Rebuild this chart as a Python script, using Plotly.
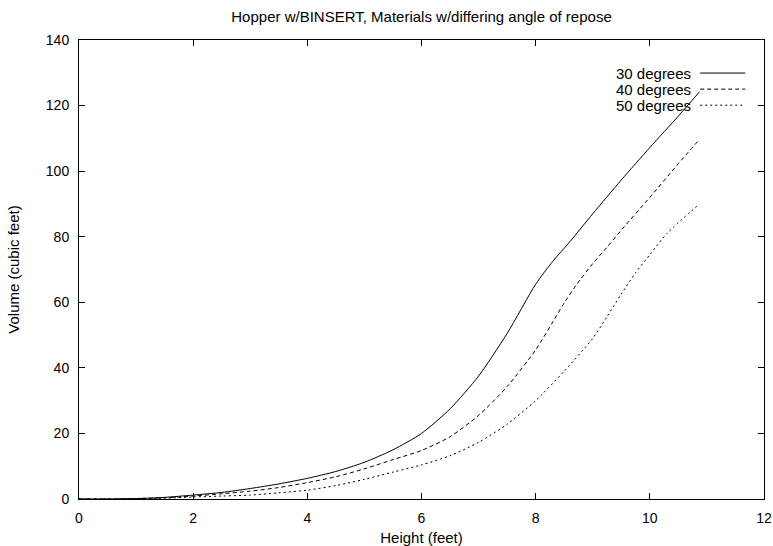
import plotly.graph_objects as go

# ---- data ----
h30 = [0, 0.5, 1, 1.5, 2, 2.5, 3, 3.5, 4, 4.5, 5, 5.5, 6, 6.5, 7, 7.5, 8, 8.3, 8.6, 9, 9.5, 10, 10.5, 10.87]
v30 = [0, 0.02, 0.15, 0.5, 1.2, 2.0, 3.2, 4.6, 6.3, 8.4, 11.2, 15.0, 20.0, 27.5, 37.5, 50.5, 65.5, 72.5, 78.5, 87.0, 97.3, 107.2, 116.8, 124.2]

h40 = [0, 0.5, 1, 1.5, 2, 2.5, 3, 3.5, 4, 4.5, 5, 5.5, 6, 6.5, 7, 7.5, 8, 8.3, 8.5, 8.7, 9, 9.25, 9.5, 10, 10.5, 10.87]
v40 = [0, 0.01, 0.1, 0.4, 0.9, 1.6, 2.4, 3.5, 5.0, 6.8, 9.2, 12.0, 14.8, 19.0, 25.5, 34.3, 45.5, 54.0, 59.8, 65.0, 71.8, 76.8, 82.0, 92.0, 102.3, 109.7]

h50 = [0, 0.5, 1, 1.5, 2, 2.5, 3, 3.5, 4, 4.5, 5, 5.5, 6, 6.5, 7, 7.5, 8, 8.5, 9, 9.25, 9.5, 9.75, 10, 10.3, 10.87]
v50 = [0, 0.01, 0.05, 0.25, 0.6, 0.9, 1.2, 1.9, 2.7, 4.1, 6.0, 8.2, 10.4, 13.2, 17.3, 22.8, 30.0, 39.0, 49.0, 55.6, 62.5, 69.0, 74.5, 81.0, 90.0]

series_names = ["30 degrees", "40 degrees", "50 degrees"]
x_ticks = [0, 2, 4, 6, 8, 10, 12]
y_ticks = [0, 20, 40, 60, 80, 100, 120, 140]

FONT = "Liberation Sans, Arial, Helvetica, sans-serif"
FS = 15
dashes = ["solid", "4px,3px", "2px,3px"]

fig = go.Figure()
for name, xs, ys, d in zip(series_names, [h30, h40, h50], [v30, v40, v50], dashes):
    fig.add_trace(go.Scatter(x=xs, y=ys, mode="lines", name=name,
                             line=dict(color="black", width=1, dash=d,
                                       shape="spline", smoothing=0.7),
                             showlegend=False))

# gnuplot-style key: text right-aligned, sample line to the right
key_y = [0.928, 0.893, 0.858]
for name, d, ky in zip(series_names, dashes, key_y):
    fig.add_annotation(x=0.8963, y=ky, xref="paper", yref="paper", text=name,
                       showarrow=False, xanchor="right", yanchor="middle",
                       font=dict(family=FONT, size=FS, color="black"))
    fig.add_shape(type="line", xref="paper", yref="paper",
                  x0=0.9069, x1=0.9726, y0=ky, y1=ky,
                  line=dict(color="black", width=1, dash=d))

axis_common = dict(showgrid=False, zeroline=False, showline=True, linecolor="black",
                   linewidth=1, mirror="ticks", ticks="inside", ticklen=6,
                   tickcolor="black", tickwidth=1, automargin=False,
                   tickfont=dict(family=FONT, size=FS - 1, color="black"))

fig.update_layout(
    width=773, height=546,
    margin=dict(l=79, r=9, t=40, b=47),
    paper_bgcolor="white", plot_bgcolor="white",
    title=dict(text="Hopper w/BINSERT, Materials w/differing angle of repose",
               x=0.5, xref="paper", xanchor="center", y=1 - 17 / 546, yanchor="middle",
               yref="container",
               font=dict(family=FONT, size=FS, color="black")),
    xaxis=dict(range=[0, 12], tickvals=x_ticks, ticktext=[str(t) for t in x_ticks],
               ticklabelstandoff=6,
               title=dict(text="Height (feet)", standoff=7,
                          font=dict(family=FONT, size=FS, color="black")),
               **axis_common),
    yaxis=dict(range=[0, 140], tickvals=y_ticks, ticktext=[str(t) for t in y_ticks],
               ticklabelstandoff=6,
               title=dict(text="Volume (cubic feet)", standoff=22,
                          font=dict(family=FONT, size=FS, color="black")),
               **axis_common),
    font=dict(family=FONT, size=FS, color="black"),
)

fig.write_html("out.html",
               config={"displayModeBar": False},
               post_script="document.body.style.margin='0';document.body.style.overflow='hidden';")
